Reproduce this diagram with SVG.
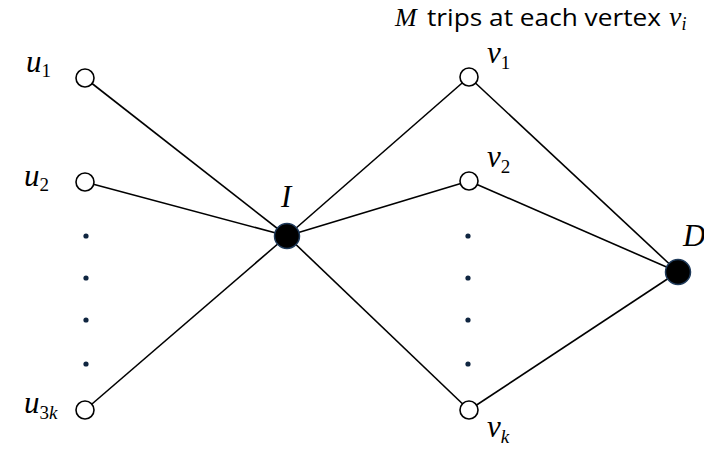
<svg xmlns="http://www.w3.org/2000/svg" width="704" height="450" viewBox="0 0 704 450">
<style>
.e{stroke:#000;stroke-width:1.6;fill:none}
.o{fill:#fff;stroke:#000;stroke-width:1.6}
.b{fill:#000;stroke:#1f3a5a;stroke-width:1.5}
.d{fill:#0f2540}
.m{font-family:"Liberation Serif",serif;font-style:italic;font-size:31px;fill:#000}
.tm{font-family:"Liberation Serif",serif;font-style:italic;font-size:26px;fill:#000}
.tv{font-family:"Liberation Serif",serif;font-style:italic;font-size:28px;fill:#000}
.s{font-family:"Liberation Serif",serif;font-style:normal;font-size:19px}
.si{font-family:"Liberation Serif",serif;font-style:italic;font-size:19px}
.ts{font-family:"Liberation Serif",serif;font-style:italic;font-size:18px}
.t{font-family:"Open Sans","Liberation Sans",sans-serif;font-size:23px;fill:#000}
</style>
<rect width="704" height="450" fill="#fff"/>
<g id="edges">
<line class="e" x1="85" y1="78" x2="287" y2="236"/>
<line class="e" x1="85" y1="182" x2="287" y2="236"/>
<line class="e" x1="85" y1="410" x2="287" y2="236"/>
<line class="e" x1="287" y1="236" x2="469" y2="77"/>
<line class="e" x1="287" y1="236" x2="469" y2="181"/>
<line class="e" x1="287" y1="236" x2="469" y2="410"/>
<line class="e" x1="469" y1="77" x2="678" y2="272"/>
<line class="e" x1="469" y1="181" x2="678" y2="272"/>
<line class="e" x1="469" y1="410" x2="678" y2="272"/>
</g>
<g id="u1"><circle class="o" cx="85" cy="78" r="9"/><text class="m" x="26" y="72">u<tspan class="s" dy="5">1</tspan></text></g>
<g id="u2"><circle class="o" cx="85" cy="182" r="9"/><text class="m" x="24" y="186">u<tspan class="s" dy="5">2</tspan></text></g>
<g id="u3k"><circle class="o" cx="85" cy="410" r="9"/><text class="m" x="24" y="413">u<tspan class="s" dy="6">3</tspan><tspan class="si">k</tspan></text></g>
<g id="udots"><circle class="d" cx="86" cy="236" r="2.6"/><circle class="d" cx="86" cy="278" r="2.6"/><circle class="d" cx="86" cy="320" r="2.6"/><circle class="d" cx="86" cy="364" r="2.6"/></g>
<g id="I"><circle class="b" cx="287" cy="236" r="12.5"/><text class="m" x="281" y="207">I</text></g>
<g id="v1"><circle class="o" cx="469" cy="77" r="9"/><text class="m" x="487" y="63">v<tspan class="s" dy="6">1</tspan></text></g>
<g id="v2"><circle class="o" cx="469" cy="181" r="9"/><text class="m" x="487" y="167">v<tspan class="s" dy="6">2</tspan></text></g>
<g id="vk"><circle class="o" cx="469" cy="410" r="9"/><text class="m" x="487" y="437">v<tspan class="si" dy="6">k</tspan></text></g>
<g id="vdots"><circle class="d" cx="468" cy="236" r="2.6"/><circle class="d" cx="468" cy="278" r="2.6"/><circle class="d" cx="468" cy="320" r="2.6"/><circle class="d" cx="468" cy="364" r="2.6"/></g>
<g id="D"><circle class="b" cx="678" cy="272" r="12.5"/><text class="m" x="683" y="246">D</text></g>
<g id="title"><text class="tm" x="395" y="26">M</text><text class="t" x="427" y="26" textLength="234" lengthAdjust="spacingAndGlyphs">trips at each vertex</text><text class="tv" x="669" y="26">v<tspan class="ts" dy="4">i</tspan></text></g>
</svg>
